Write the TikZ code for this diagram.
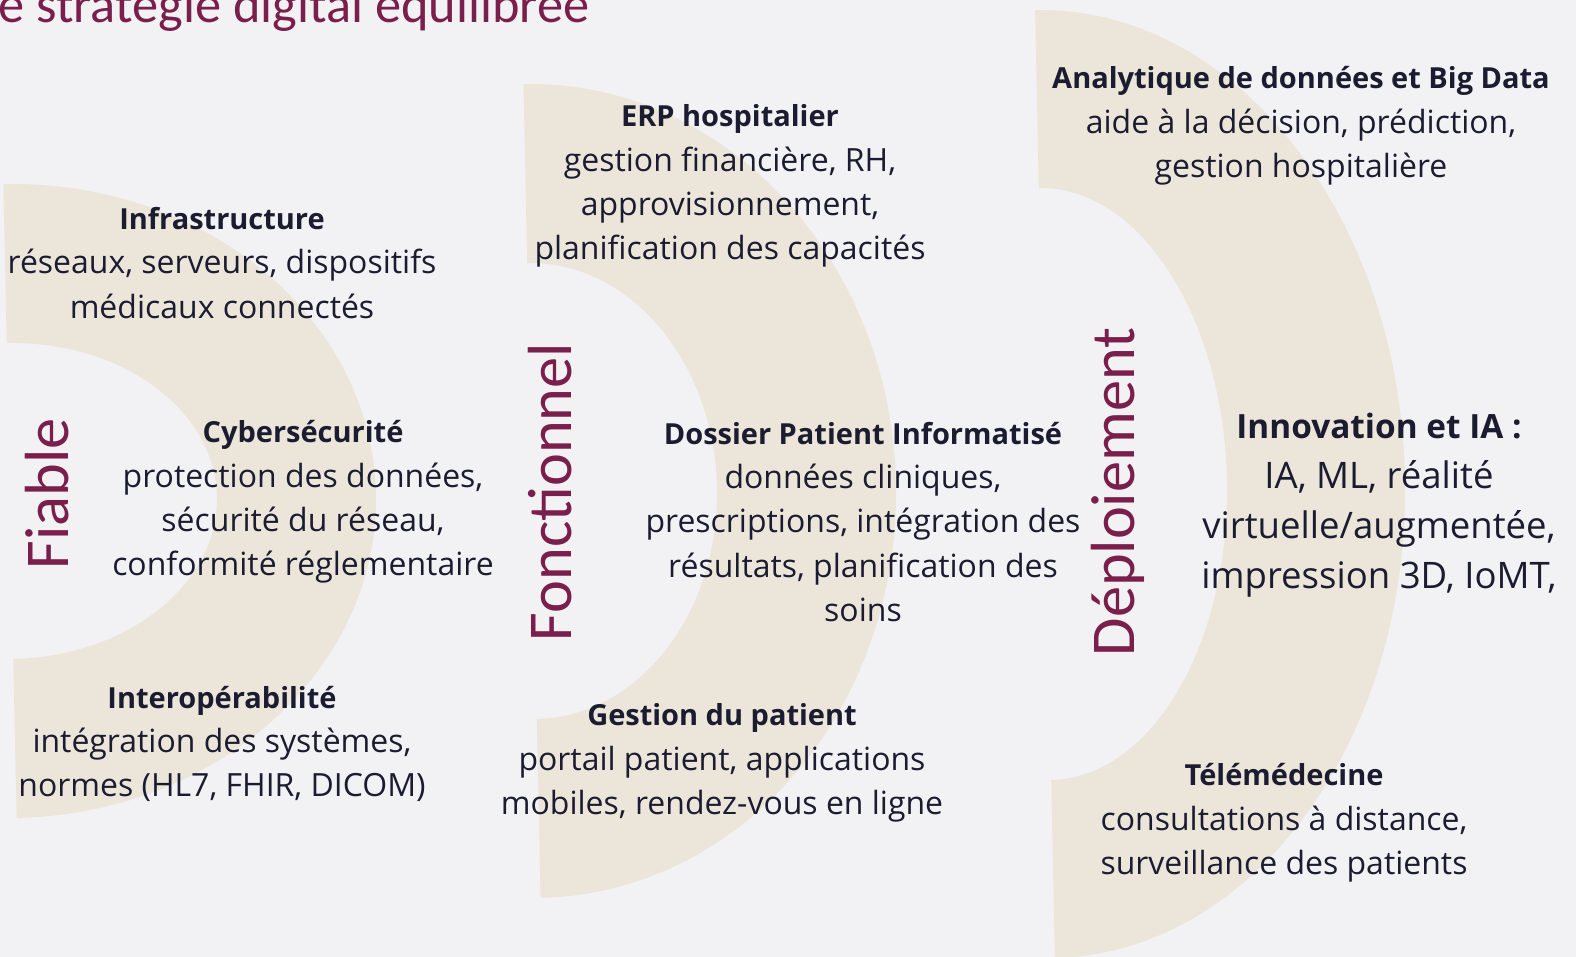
\documentclass[tikz,border=0pt]{standalone}
\usepackage{fontspec}
\setmainfont{Open Sans}
\newfontfamily\labelfont{Carlito}
\definecolor{bgcol}{HTML}{F2F2F4}
\definecolor{arccol}{HTML}{ECE6DA}
\definecolor{maroon}{HTML}{7A1F4B}
\definecolor{inkcol}{HTML}{1C1C30}
% half ring: centre x, centre y, outer x radius, outer y radius, thickness
\newcommand{\halfring}[5]{%
  \fill[sector,rotate around={1.2:(#1,#2)}] (#1,#2) ++(0,-#4)
    arc[start angle=-90,end angle=90,x radius=#3,y radius=#4]
    -- ++(0,-#5)
    arc[start angle=90,end angle=-90,x radius=#3-#5,y radius=#4-#5] -- cycle;}
\newcommand{\hd}[1]{{\fontsize{16.5}{25.2}\selectfont\bfseries #1}}
\newcommand{\bighd}[1]{{\fontsize{19}{28.4}\selectfont\bfseries #1}}

\begin{document}
\begin{tikzpicture}[x=0.02cm,y=-0.02cm,
  sector/.style={fill=arccol},
  block/.style={align=center,inner sep=0pt,text=inkcol,
    font=\fontsize{18.2}{25.2}\selectfont},
  bigblock/.style={block,font=\fontsize{20.8}{28.4}\selectfont},
  pillar/.style={rotate=90,inner sep=0pt,text=maroon,
    font=\labelfont\fontsize{35.5}{40}\selectfont}]
\useasboundingbox (0,0) rectangle (1576,957);
\fill[bgcol] (0,0) rectangle (1576,957);
\clip (0,0) rectangle (1576,957);

% Arcs
\halfring{10}{501}{366}{317}{159}
\halfring{532}{491}{364}{407}{179}
\halfring{1045}{484}{360}{474}{178}

% Title
\node[anchor=base west,inner sep=0pt,text=maroon,
  font=\labelfont\fontsize{29.8}{34}\selectfont] (title) at (-2,22)
  {e stratégie digital équilibrée};

% Pillars
\node[pillar] (fiable) at (47,494) {Fiable};
\node[pillar] (fonction) at (550,492) {Fonctionnel};
\node[pillar] (deploy) at (1118,492) {Déploiement};

% Fiable
\node[block] (infra) at (222,263) {\hd{Infrastructure}\\
  réseaux, serveurs, dispositifs\\médicaux connectés};
\node[block] (cyber) at (303,502) {\hd{Cybersécurité}\\
  protection des données,\\sécurité du réseau,\\conformité réglementaire};
\node[block] (interop) at (222,744) {\hd{Interopérabilité}\\
  intégration des systèmes,\\normes (HL7, FHIR, DICOM)};

% Fonctionnel
\node[block] (erp) at (730,186) {\hd{ERP hospitalier}\\
  gestion financière, RH,\\approvisionnement,\\planification des capacités};
\node[block] (dpi) at (863,522) {\hd{Dossier Patient Informatisé}\\
  données cliniques,\\prescriptions, intégration des\\résultats, planification des\\soins};
\node[block] (patient) at (722,763) {\hd{Gestion du patient}\\
  portail patient, applications\\mobiles, rendez-vous en ligne};

% Deploiement
\node[block] (analytics) at (1301,126) {\hd{Analytique de données et Big Data}\\
  aide à la décision, prédiction,\\gestion hospitalière};
\node[bigblock] (innov) at (1379,505) {\bighd{Innovation et IA :}\\
  IA, ML, réalité\\virtuelle/augmentée,\\impression 3D, IoMT,};
\node[block] (telemed) at (1284,823) {\hd{Télémédecine}\\
  consultations à distance,\\surveillance des patients};
\end{tikzpicture}
\end{document}
